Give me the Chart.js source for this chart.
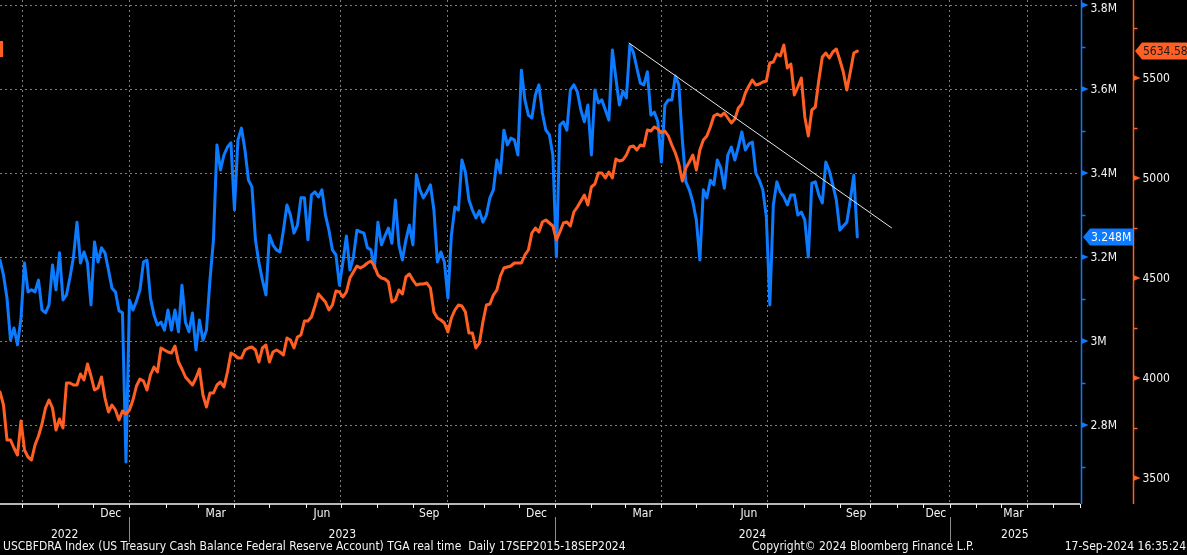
<!DOCTYPE html>
<html>
<head>
  <meta charset="utf-8">
  <script src="https://cdn.jsdelivr.net/npm/chart.js@4.4.1/dist/chart.umd.min.js"></script>
  <style>
    html, body { margin: 0; padding: 0; background: #000; overflow: hidden; }
    canvas { display: block; }
  </style>
</head>
<body>
  <canvas id="tgaChart" width="1187" height="555"></canvas>
<script>
"use strict";

// TGA balance (M) and S&P 500, one reading every 3 days starting 12 Sep 2022
const startDate = '2022-09-12';
const stepDays = 3;

const tgaBalance = [
  3.193, 3.157, 3.102, 3.002, 3.031, 2.991, 3.055, 3.186, 3.117, 3.122,
  3.117, 3.145, 3.074, 3.067, 3.086, 3.181, 3.122, 3.210, 3.098, 3.110,
  3.152, 3.200, 3.283, 3.186, 3.212, 3.186, 3.086, 3.236, 3.188, 3.222,
  3.210, 3.169, 3.126, 3.117, 3.072, 3.067, 2.712, 3.098, 3.074, 3.095,
  3.122, 3.188, 3.193, 3.102, 3.062, 3.038, 3.045, 3.026, 3.074, 3.026,
  3.074, 3.022, 3.133, 3.045, 3.022, 3.067, 2.979, 3.050, 3.002, 3.026,
  3.145, 3.241, 3.467, 3.407, 3.443, 3.462, 3.472, 3.312, 3.479, 3.507,
  3.455, 3.383, 3.367, 3.241, 3.186, 3.145, 3.110, 3.252, 3.229, 3.217,
  3.212, 3.264, 3.324, 3.300, 3.257, 3.276, 3.341, 3.341, 3.241, 3.348,
  3.355, 3.343, 3.360, 3.300, 3.264, 3.217, 3.205, 3.133, 3.188, 3.250,
  3.169, 3.200, 3.264, 3.260, 3.257, 3.222, 3.217, 3.174, 3.283, 3.229,
  3.250, 3.269, 3.233, 3.336, 3.229, 3.193, 3.241, 3.276, 3.229, 3.395,
  3.360, 3.341, 3.355, 3.372, 3.312, 3.188, 3.212, 3.188, 3.102, 3.252,
  3.319, 3.312, 3.431, 3.402, 3.336, 3.312, 3.293, 3.310, 3.283, 3.300,
  3.341, 3.360, 3.431, 3.400, 3.502, 3.467, 3.483, 3.479, 3.443, 3.645,
  3.574, 3.538, 3.531, 3.586, 3.610, 3.543, 3.502, 3.491, 3.443, 3.200,
  3.514, 3.522, 3.502, 3.598, 3.610, 3.593, 3.550, 3.522, 3.562, 3.443,
  3.598, 3.567, 3.574, 3.550, 3.526, 3.693, 3.626, 3.562, 3.595, 3.579,
  3.705, 3.688, 3.650, 3.614, 3.610, 3.641, 3.538, 3.545, 3.522, 3.426,
  3.562, 3.574, 3.574, 3.631, 3.610, 3.479, 3.379, 3.360, 3.331, 3.288,
  3.193, 3.360, 3.341, 3.383, 3.372, 3.431, 3.412, 3.364, 3.443, 3.462,
  3.431, 3.462, 3.498, 3.455, 3.469, 3.474, 3.400, 3.383, 3.360, 3.295,
  3.086, 3.324, 3.379, 3.355, 3.343, 3.324, 3.348, 3.348, 3.300, 3.307,
  3.288, 3.200, 3.376, 3.379, 3.348, 3.329, 3.426, 3.405, 3.372, 3.336,
  3.264, 3.274, 3.283, 3.336, 3.395, 3.248
];

const spxClose = [
  3930, 3865, 3690, 3690, 3650, 3615, 3785, 3640, 3605, 3590,
  3665, 3710, 3770, 3850, 3890, 3850, 3740, 3795, 3750, 3975,
  3975, 3965, 3965, 4020, 3990, 4070, 4010, 3940, 3950, 4005,
  3900, 3830, 3865, 3840, 3790, 3835, 3820, 3840, 3890, 3960,
  3995, 3985, 3940, 4015, 4055, 4030, 4150, 4140, 4130, 4125,
  4160, 4080, 4045, 4005, 3985, 3965, 4000, 4045, 3915, 3855,
  3925, 3925, 3965, 3980, 3955, 4030, 4125, 4115, 4100, 4100,
  4140, 4150, 4155, 4140, 4080, 4150, 4165, 4080, 4130, 4140,
  4130, 4115, 4200, 4190, 4150, 4205, 4215, 4285, 4285, 4305,
  4360, 4420, 4400, 4380, 4340, 4365, 4435, 4430, 4405, 4430,
  4500, 4530, 4560, 4550, 4560, 4575, 4585, 4560, 4515, 4500,
  4495, 4480, 4380, 4390, 4440, 4420, 4505, 4520, 4490, 4465,
  4470, 4470, 4475, 4450, 4330, 4300, 4290, 4275, 4230, 4300,
  4340, 4365, 4360, 4330, 4225, 4225, 4150, 4175, 4280, 4365,
  4370, 4415, 4440, 4510, 4550, 4555, 4560, 4575, 4575, 4575,
  4615, 4640, 4725, 4750, 4730, 4780, 4790, 4775, 4760, 4690,
  4730, 4775, 4780, 4760, 4830, 4855, 4885, 4915, 4865, 4955,
  4970, 5025, 5025, 5000, 5030, 5000, 5095, 5085, 5090, 5115,
  5155, 5160, 5140, 5165, 5160, 5240, 5235, 5255, 5245, 5225,
  5235, 5210, 5165, 5125, 5070, 4985, 5050, 5080, 5115, 5040,
  5140, 5190, 5210, 5255, 5310, 5320, 5310, 5325, 5300, 5275,
  5295, 5350, 5370, 5425, 5460, 5490, 5465, 5470, 5480, 5485,
  5575, 5580, 5620, 5610, 5665, 5550, 5570, 5415, 5455, 5500,
  5305, 5210, 5340, 5355, 5490, 5605, 5625, 5600, 5630, 5645,
  5590, 5530, 5440, 5530, 5625, 5634.58
];

// trend line drawn over the TGA series
const trendDates = ['2024-03-04', '2024-10-26'];
const trendValues = [3.710, 3.269];

const tgaTicks = [2.8, 3.0, 3.2, 3.4, 3.6, 3.8];
const tgaTickLabels = ['2.8M', '3M', '3.2M', '3.4M', '3.6M', '3.8M'];
const tgaMinorTicks = [2.7, 2.9, 3.1, 3.3, 3.5, 3.7];
const spxTicks = [3500, 4000, 4500, 5000, 5500];
const spxMinorTicks = [3750, 4250, 4750, 5250, 5750];

const monthLabelDates = ['2022-12-16', '2023-03-16', '2023-06-15', '2023-09-15', '2023-12-16',
  '2024-03-16', '2024-06-15', '2024-09-15', '2024-12-16', '2025-03-16'];
const monthLabelText = ['Dec', 'Mar', 'Jun', 'Sep', 'Dec', 'Mar', 'Jun', 'Sep', 'Dec', 'Mar'];
const yearLabels = ['2022', '2023', '2024', '2025'];
const yearStarts = ['2023-01-01', '2024-01-01', '2025-01-01'];
const axisEndDate = '2025-06-01';

const BLUE = '#0d7bff';
const ORANGE = '#ff5f22';
const GRID = '#7c7c7c';
const TEXT = '#f4f4f4';
const FONT = '12px "DejaVu Sans Condensed", "DejaVu Sans", sans-serif';

const lastDay = (tgaBalance.length - 1) * stepDays;

function dayOf(str) {
  return Math.round((Date.parse(str) - Date.parse(startDate)) / 86400000);
}
// future part of the axis is squeezed, as on the terminal
function toScale(day) {
  return day <= lastDay ? day : lastDay + (day - lastDay) * 0.74;
}
function monthStarts(fromY, fromM, count) {
  const out = [];
  for (let k = 0; k < count; k++) {
    const d = new Date(Date.UTC(fromY, fromM + k, 1));
    out.push(d.toISOString().slice(0, 10));
  }
  return out;
}

const allMonths = monthStarts(2022, 9, 33);            // Oct 2022 .. Jun 2025
const quarterStarts = allMonths.filter((d, i) => i % 3 === 0);

const tgaPts = tgaBalance.map((v, i) => ({x: i * stepDays, y: v}));
const spxPts = spxClose.map((v, i) => ({x: i * stepDays, y: v}));
const trendPts = trendDates.map((d, i) => ({x: toScale(dayOf(d)), y: trendValues[i]}));

// axes, labels, value badges and footer
const terminalDecor = {
  id: 'terminalDecor',
  afterDraw(chart) {
    const ctx = chart.ctx;
    const area = chart.chartArea;
    const xs = chart.scales.x, yt = chart.scales.yTga, ys = chart.scales.ySpx;
    const xOf = d => xs.getPixelForValue(toScale(dayOf(d)));
    ctx.save();
    ctx.font = FONT;
    ctx.textBaseline = 'middle';

    // bottom axis
    ctx.strokeStyle = TEXT;
    ctx.lineWidth = 1.5;
    ctx.beginPath();
    ctx.moveTo(area.left, area.bottom);
    ctx.lineTo(area.right, area.bottom);
    ctx.stroke();
    ctx.lineWidth = 1;
    allMonths.forEach(d => {
      const x = Math.round(xOf(d)) + 0.5;
      ctx.beginPath();
      ctx.moveTo(x, area.bottom);
      ctx.lineTo(x, area.bottom + 4);
      ctx.stroke();
    });
    ctx.strokeStyle = '#8c8c8c';
    yearStarts.forEach(d => {
      const x = Math.round(xOf(d)) + 0.5;
      ctx.beginPath();
      ctx.moveTo(x, area.bottom + 13);
      ctx.lineTo(x, area.bottom + 38);
      ctx.stroke();
    });
    ctx.fillStyle = TEXT;
    ctx.textAlign = 'center';
    monthLabelDates.forEach((d, i) => ctx.fillText(monthLabelText[i], xOf(d), area.bottom + 10));
    const bounds = [area.left].concat(yearStarts.map(xOf), [area.right]);
    yearLabels.forEach((t, i) => ctx.fillText(t, (bounds[i] + bounds[i + 1]) / 2, area.bottom + 31));

    // TGA axis (blue)
    const bx = area.right + 1.5;
    ctx.strokeStyle = BLUE;
    ctx.fillStyle = BLUE;
    ctx.lineWidth = 1.5;
    ctx.beginPath();
    ctx.moveTo(bx, area.top);
    ctx.lineTo(bx, area.bottom);
    ctx.stroke();
    tgaMinorTicks.forEach(v => {
      const y = Math.round(yt.getPixelForValue(v)) + 0.5;
      ctx.beginPath();
      ctx.moveTo(bx, y);
      ctx.lineTo(bx + 4, y);
      ctx.stroke();
    });
    tgaTicks.forEach((v, i) => {
      const y = yt.getPixelForValue(v);
      ctx.fillStyle = BLUE;
      ctx.beginPath();
      ctx.moveTo(bx, y - 3);
      ctx.lineTo(bx + 7, y);
      ctx.lineTo(bx, y + 3);
      ctx.closePath();
      ctx.fill();
      ctx.fillStyle = TEXT;
      ctx.textAlign = 'left';
      ctx.fillText(tgaTickLabels[i], bx + 9, Math.max(y + 1, 9));
    });

    // S&P axis (orange)
    const ox = area.right + 53.5;
    ctx.strokeStyle = ORANGE;
    ctx.beginPath();
    ctx.moveTo(ox, area.top);
    ctx.lineTo(ox, area.bottom);
    ctx.stroke();
    spxMinorTicks.forEach(v => {
      const y = Math.round(ys.getPixelForValue(v)) + 0.5;
      ctx.beginPath();
      ctx.moveTo(ox, y);
      ctx.lineTo(ox + 4, y);
      ctx.stroke();
    });
    spxTicks.forEach(v => {
      const y = ys.getPixelForValue(v);
      ctx.fillStyle = ORANGE;
      ctx.beginPath();
      ctx.moveTo(ox, y - 3);
      ctx.lineTo(ox + 7, y);
      ctx.lineTo(ox, y + 3);
      ctx.closePath();
      ctx.fill();
      ctx.fillStyle = TEXT;
      ctx.textAlign = 'left';
      ctx.fillText(String(v), ox + 9, y + 1);
    });

    // last value badges
    const badge = (xTip, y, w, fill, color, text) => {
      ctx.fillStyle = fill;
      ctx.beginPath();
      ctx.moveTo(xTip, y);
      ctx.lineTo(xTip + 7, y - 8.5);
      ctx.lineTo(xTip + w, y - 8.5);
      ctx.lineTo(xTip + w, y + 8.5);
      ctx.lineTo(xTip + 7, y + 8.5);
      ctx.closePath();
      ctx.fill();
      ctx.fillStyle = color;
      ctx.textAlign = 'left';
      ctx.fillText(text, xTip + 8, y + 1);
    };
    const lastTga = tgaBalance[tgaBalance.length - 1];
    const lastSpx = spxClose[spxClose.length - 1];
    badge(area.right + 3, yt.getPixelForValue(lastTga), 50, BLUE, '#ffffff', lastTga.toFixed(3) + 'M');
    badge(ox + 1.5, ys.getPixelForValue(lastSpx), 53, ORANGE, '#1a1a1a', lastSpx.toFixed(2));

    // clipped label stub on the left edge
    ctx.fillStyle = ORANGE;
    ctx.fillRect(0, 41, 3, 16);

    // footer
    ctx.fillStyle = TEXT;
    ctx.textAlign = 'left';
    const fy = chart.height - 8;
    ctx.fillText('USCBFDRA Index (US Treasury Cash Balance Federal Reserve Account) TGA real time  Daily 17SEP2015-18SEP2024', 3, fy, 684);
    ctx.fillText('Copyright\u00A9 2024 Bloomberg Finance L.P.', 752, fy, 240);
    ctx.textAlign = 'right';
    ctx.fillText('17-Sep-2024 16:35:24', chart.width - 1, fy, 130);
    ctx.restore();
  }
};

new Chart(document.getElementById('tgaChart'), {
  type: 'line',
  data: {
    datasets: [
      {label: 'trend', data: trendPts, yAxisID: 'yTga', borderColor: '#e8e8e8', borderWidth: 1,
       pointRadius: 0, order: 0},
      {label: 'S&P 500', data: spxPts, yAxisID: 'ySpx', borderColor: ORANGE, borderWidth: 3,
       pointRadius: 0, borderJoinStyle: 'round', borderCapStyle: 'round', order: 1},
      {label: 'TGA', data: tgaPts, yAxisID: 'yTga', borderColor: BLUE, borderWidth: 3,
       pointRadius: 0, borderJoinStyle: 'round', borderCapStyle: 'round', order: 2}
    ]
  },
  options: {
    responsive: false,
    animation: false,
    layout: {padding: {left: 0, top: 0, right: 107, bottom: 51}},
    plugins: {legend: {display: false}, tooltip: {enabled: false}},
    scales: {
      x: {
        type: 'linear',
        min: 0,
        max: toScale(dayOf(axisEndDate)),
        ticks: {display: false},
        grid: {color: GRID, lineWidth: 1, drawTicks: false},
        border: {display: false, dash: [2, 3]},
        afterBuildTicks: s => { s.ticks = quarterStarts.map(d => ({value: toScale(dayOf(d))})); }
      },
      yTga: {
        position: 'right',
        min: 2.612,
        max: 3.812,
        ticks: {display: false},
        grid: {color: GRID, lineWidth: 1, drawTicks: false},
        border: {display: false, dash: [2, 3]},
        afterBuildTicks: s => { s.ticks = tgaTicks.map(v => ({value: v})); }
      },
      ySpx: {
        position: 'right',
        display: false,
        min: 3370,
        max: 5890
      }
    }
  },
  plugins: [terminalDecor]
});
</script>
</body>
</html>
